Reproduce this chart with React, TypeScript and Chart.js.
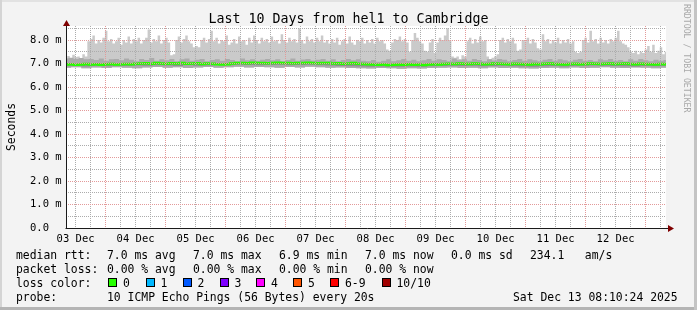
import React, { useEffect, useRef } from 'react';
import { Chart, registerables } from 'chart.js';

Chart.register(...registerables);

// ---- data ----
const START_HOUR = 8.17; // hours after 03 Dec 00:00
const SPAN_HOURS = 240;
const dayLabels = ['03 Dec', '04 Dec', '05 Dec', '06 Dec', '07 Dec', '08 Dec', '09 Dec', '10 Dec', '11 Dec', '12 Dec'];
const yTickValues = [0, 0.5, 1, 1.5, 2, 2.5, 3, 3.5, 4, 4.5, 5, 5.5, 6, 6.5, 7, 7.5, 8, 8.5];
const xGridHours = [12, 18, 24, 30, 36, 42, 48, 54, 60, 66, 72, 78, 84, 90, 96, 102, 108, 114, 120, 126, 132, 138, 144, 150, 156, 162, 168, 174, 180, 186, 192, 198, 204, 210, 216, 222, 228, 234, 240, 246];

// upper smoke (max ping), hourly
const smokeTop = [
  7.25, 7.32, 7.22, 7.38, 7.28, 7.3, 7.24, 7.4, 7.3, 7.95,
  8.05, 8.2, 7.85, 8.0, 7.9, 8.1, 8.4, 7.95, 8.05, 7.85,
  7.95, 8.1, 7.8, 8.0, 7.9, 8.15, 7.85, 8.05, 7.95, 8.1,
  7.85, 8.0, 8.1, 8.45, 7.9, 8.05, 7.95, 8.2, 7.85, 8.0,
  8.1, 7.9, 7.35, 7.4, 8.0, 8.15, 7.9, 8.05, 8.2, 7.95,
  7.85, 7.7, 7.75, 7.7, 8.0, 8.1, 7.9, 8.05, 8.4, 7.95,
  8.1, 7.85, 8.0, 7.95, 8.2, 7.8, 7.9, 8.05, 7.85, 8.15,
  7.95, 8.0, 7.8, 8.1, 7.9, 8.2, 8.0, 7.85, 8.1, 7.95,
  8.05, 7.9, 8.15, 7.95, 8.0, 7.85, 8.25, 8.0, 7.9, 8.1,
  7.95, 8.05, 7.9, 8.5, 8.0, 7.85, 8.15, 7.95, 8.05, 7.9,
  8.1, 7.95, 8.2, 7.9, 8.0, 7.85, 8.05, 7.9, 8.1, 7.8,
  7.95, 8.05, 7.85, 8.15, 7.9, 7.8, 8.0, 7.95, 8.1, 7.85,
  8.0, 7.9, 8.05, 7.85, 8.1, 7.95, 8.0, 7.85, 7.6, 7.55,
  7.9, 8.05, 8.0, 8.15, 7.95, 8.05, 7.9, 7.5, 8.0, 8.3,
  8.1, 7.95, 7.85, 7.55, 7.5, 7.9, 8.05, 7.45, 7.9, 8.1,
  8.0, 8.2, 8.5, 8.0, 7.3, 7.25, 7.3, 7.2, 7.35, 7.3,
  7.95, 8.1, 7.85, 8.05, 7.9, 8.15, 7.95, 8.0, 7.3, 7.2,
  7.25, 7.3, 7.4, 8.0, 8.1, 7.9, 8.05, 7.95, 8.1, 7.85,
  7.55, 7.6, 8.0, 7.95, 8.1, 7.85, 8.05, 7.9, 7.65, 7.6,
  8.25, 7.95, 8.05, 7.85, 8.0, 7.9, 8.1, 7.85, 8.0, 7.9,
  8.05, 7.85, 7.95, 7.5, 7.45, 7.5, 8.0, 8.1, 7.9, 8.4,
  7.95, 8.05, 7.85, 8.1, 7.9, 8.0, 7.85, 8.05, 7.95, 8.1,
  8.4, 7.95, 7.85, 7.8, 7.7, 7.5, 7.45, 7.55, 7.4, 7.5,
  7.45, 7.6, 7.75, 7.5, 7.8, 7.45, 7.55, 7.7, 7.4, 7.5,
];

// inner smoke band top, 2-hourly
const bandTop = [
  7.22, 7.25, 7.2, 7.24, 7.18, 7.2, 7.15, 7.22, 7.12, 7.18,
  7.2, 7.14, 7.22, 7.16, 7.1, 7.2, 7.15, 7.24, 7.12, 7.18,
  7.14, 7.2, 7.1, 7.18, 7.22, 7.12, 7.16, 7.2, 7.1, 7.15,
  7.18, 7.12, 7.2, 7.15, 7.1, 7.22, 7.14, 7.18, 7.12, 7.16,
  7.2, 7.14, 7.18, 7.1, 7.15, 7.22, 7.12, 7.17, 7.2, 7.13,
  7.16, 7.2, 7.12, 7.18, 7.1, 7.15, 7.2, 7.14, 7.18, 7.12,
  7.1, 7.15, 7.08, 7.12, 7.18, 7.1, 7.14, 7.2, 7.12, 7.16,
  7.1, 7.14, 7.2, 7.12, 7.18, 7.15, 7.1, 7.22, 7.14, 7.18,
  7.12, 7.2, 7.15, 7.1, 7.18, 7.13, 7.2, 7.16, 7.1, 7.15,
  7.2, 7.12, 7.18, 7.14, 7.1, 7.16, 7.2, 7.12, 7.18, 7.14,
  7.1, 7.16, 7.2, 7.12, 7.15, 7.1, 7.18, 7.14, 7.2, 7.12,
  7.15, 7.1, 7.18, 7.12, 7.2, 7.14, 7.1, 7.16, 7.12, 7.15,
];

// median rtt, 2-hourly
const medianRtt = [
  6.96, 6.97, 6.95, 6.96, 6.98, 6.96, 6.97, 6.95, 6.97, 6.98, 6.96, 6.97, 6.98, 6.97, 6.99,
  7.0, 7.01, 6.99, 7.02, 7.0, 6.99, 7.01, 7.0, 7.02, 6.99, 7.0, 7.01, 6.98, 7.0, 6.99, 6.97, 6.96, 6.97,
  7.0, 7.02, 7.03, 7.01, 7.04, 7.02, 7.03, 7.01, 7.02, 7.04, 7.02, 7.03, 7.01, 7.03, 7.02, 7.04, 7.02, 7.01, 7.03, 7.02,
  7.0, 7.01, 6.99, 7.0, 7.02, 6.99, 6.98, 6.97,
  6.96, 6.95, 6.96, 6.94, 6.95, 6.96, 6.95, 6.97, 6.95, 6.96, 6.94, 6.96, 6.97, 6.96,
  6.98, 6.99, 6.98, 7.0, 6.99, 6.98, 7.0, 6.99, 6.97, 6.98, 7.0, 6.99, 6.98, 6.97, 6.99, 6.98,
  6.97, 6.96, 6.98, 6.97, 6.99, 7.0, 6.98, 6.97, 6.96, 6.98, 6.99, 6.97, 6.98, 7.0, 6.99, 6.98,
  6.99, 7.0, 6.98, 6.99, 7.0, 6.98, 6.97, 6.99, 6.98, 6.97, 6.96, 6.98, 6.97,
];

// lower edge of dark smoke under the median, 4-hourly
const innerLow = [
  6.89, 6.9, 6.88, 6.9, 6.89, 6.91, 6.9, 6.92, 6.91, 6.93,
  6.92, 6.9, 6.93, 6.91, 6.92, 6.94, 6.93, 6.95, 6.94, 6.93,
  6.94, 6.95, 6.93, 6.94, 6.95, 6.93, 6.92, 6.9, 6.89, 6.88,
  6.87, 6.88, 6.86, 6.87, 6.88, 6.87, 6.89, 6.9, 6.91, 6.9,
  6.91, 6.89, 6.9, 6.91, 6.89, 6.88, 6.87, 6.89, 6.9, 6.88,
  6.9, 6.91, 6.92, 6.91, 6.9, 6.89, 6.88, 6.9, 6.89, 6.9,
];

// lower edge of smoke (min ping), 4-hourly
const bandBottom = [
  6.82, 6.84, 6.8, 6.83, 6.81, 6.84, 6.82, 6.8, 6.83, 6.85,
  6.82, 6.84, 6.81, 6.83, 6.85, 6.82, 6.84, 6.86, 6.83, 6.85,
  6.84, 6.82, 6.85, 6.83, 6.86, 6.84, 6.82, 6.83, 6.81, 6.8,
  6.79, 6.81, 6.8, 6.78, 6.8, 6.79, 6.81, 6.82, 6.83, 6.81,
  6.82, 6.8, 6.83, 6.81, 6.82, 6.8, 6.79, 6.81, 6.82, 6.8,
  6.83, 6.81, 6.82, 6.84, 6.82, 6.81, 6.83, 6.82, 6.8, 6.82,
];

const titleText = 'Last 10 Days from hel1 to Cambridge';
const medianStats = ['7.0 ms avg', '7.0 ms max', '6.9 ms min', '7.0 ms now', '0.0 ms sd'];
const medianExtra = '234.1   am/s';
const lossStats = ['0.00 % avg', '0.00 % max', '0.00 % min', '0.00 % now'];
const lossLabels = ['0', '1', '2', '3', '4', '5', '6-9', '10/10'];
const lossColors = ['#26ff00', '#00b8ff', '#0059ff', '#7e00ff', '#ff00ff', '#ff5500', '#ff0000', '#a00000'];
const probeText = '10 ICMP Echo Pings (56 Bytes) every 20s';
const stampText = 'Sat Dec 13 08:10:24 2025';

// ---- layout / style ----
const MONO = "'DejaVu Sans Mono', monospace";
const MAJOR = '#e39a9a';
const MINOR = '#acacac';
const statX = [107, 193, 279, 365, 451];
const boxX = [108, 145.5, 182.5, 219.5, 256, 293, 330, 381.5];

function toPoints(arr: number[]) {
  const n = arr.length;
  return arr.map((y, i) => ({ x: START_HOUR + (SPAN_HOURS * i) / (n - 1), y }));
}

const framePlugin = {
  id: 'frame',
  beforeDraw(chart: any) {
    const { ctx, chartArea } = chart;
    ctx.save();
    ctx.fillStyle = '#ffffff';
    ctx.fillRect(chartArea.left, chartArea.top, chartArea.right - chartArea.left, chartArea.bottom - chartArea.top);
    ctx.restore();
  },
  afterDraw(chart: any) {
    const { ctx, chartArea } = chart;
    const x0 = Math.round(chartArea.left) + 0.5;
    const y0 = Math.round(chartArea.bottom) + 0.5;
    ctx.save();
    ctx.strokeStyle = '#1a1a1a';
    ctx.lineWidth = 1;
    ctx.beginPath();
    ctx.moveTo(x0, y0);
    ctx.lineTo(x0, chartArea.top - 4);
    ctx.moveTo(x0 - 1, y0);
    ctx.lineTo(chartArea.right + 4, y0);
    ctx.stroke();
    ctx.fillStyle = '#7f0000';
    ctx.beginPath();
    ctx.moveTo(x0, chartArea.top - 6);
    ctx.lineTo(x0 - 3.5, chartArea.top);
    ctx.lineTo(x0 + 3.5, chartArea.top);
    ctx.closePath();
    ctx.fill();
    ctx.beginPath();
    ctx.moveTo(chartArea.right + 8, y0);
    ctx.lineTo(chartArea.right + 2, y0 - 3.5);
    ctx.lineTo(chartArea.right + 2, y0 + 3.5);
    ctx.closePath();
    ctx.fill();
    ctx.restore();
  },
};

export default function App() {
  const ref = useRef<HTMLCanvasElement>(null);

  useEffect(() => {
    document.body.style.margin = '0';
    const hidden = { borderWidth: 0, borderColor: 'transparent', pointRadius: 0, fill: false, stepped: 'middle' as const };
    const chart = new Chart(ref.current as HTMLCanvasElement, {
      type: 'line',
      data: {
        datasets: [
          { label: 'bandBottom', data: toPoints(bandBottom), ...hidden, order: 6 },
          { label: 'innerLow', data: toPoints(innerLow), ...hidden, order: 5 },
          { label: 'smoke', data: toPoints(smokeTop), ...hidden, fill: 0, backgroundColor: '#cacaca', order: 4 },
          { label: 'band', data: toPoints(bandTop), ...hidden, fill: 0, backgroundColor: '#ababab', order: 3 },
          {
            label: 'median', data: toPoints(medianRtt), borderWidth: 2.5, borderColor: '#26ff00', pointRadius: 0,
            fill: 1, backgroundColor: '#8e8e8e', stepped: 'middle', order: 1,
          },
        ] as any,
      },
      options: {
        animation: false,
        responsive: false,
        maintainAspectRatio: false,
        events: [],
        layout: { padding: { left: 30, top: 26, right: 31, bottom: 62 } },
        plugins: { legend: { display: false }, tooltip: { enabled: false }, title: { display: false } },
        scales: {
          x: {
            type: 'linear',
            min: START_HOUR,
            max: START_HOUR + SPAN_HOURS,
            afterBuildTicks: (s: any) => { s.ticks = xGridHours.map((v) => ({ value: v })); },
            afterFit: (s: any) => { s.height = 20; },
            grid: {
              z: 1,
              drawTicks: false,
              lineWidth: 1,
              color: (c: any) => (c.tick && c.tick.value % 24 === 0 ? MAJOR : MINOR),
            },
            border: { display: false, dash: [1, 1] },
            ticks: {
              autoSkip: false,
              maxRotation: 0,
              minRotation: 0,
              padding: 5,
              color: '#000',
              font: { family: MONO, size: 10.5 },
              callback: (v: any) => {
                const k = (Number(v) - 12) / 24;
                return Number.isInteger(k) && dayLabels[k] ? dayLabels[k] : '';
              },
            },
          },
          y: {
            type: 'linear',
            min: 0,
            max: 8.6,
            afterBuildTicks: (s: any) => { s.ticks = yTickValues.map((v) => ({ value: v })); },
            afterFit: (s: any) => { s.width = 36; },
            grid: {
              z: 1,
              drawTicks: false,
              lineWidth: 1,
              color: (c: any) => (c.tick && c.tick.value % 1 === 0 ? MAJOR : MINOR),
            },
            border: { display: false, dash: [1, 1] },
            ticks: {
              autoSkip: false,
              crossAlign: 'far',
              padding: 0,
              color: '#000',
              font: { family: MONO, size: 10.5 },
              callback: (v: any) => {
                const n = Number(v);
                if (n % 1 !== 0) return '';
                return n === 0 ? '0.0' : n.toFixed(1) + ' m';
              },
            },
          },
        },
      },
      plugins: [framePlugin],
    } as any);
    return () => chart.destroy();
  }, []);

  const legendFont: React.CSSProperties = {
    position: 'absolute', fontFamily: MONO, fontSize: '11.4px', lineHeight: '14px', whiteSpace: 'pre', color: '#000',
  };
  const rowTop = [247.5, 261.5, 275.5, 289.5];

  return (
    <div style={{ position: 'relative', width: 697, height: 310, background: '#f3f3f3', overflow: 'hidden' }}>
      <canvas ref={ref} width={697} height={310} style={{ position: 'absolute', left: 0, top: 0, width: 697, height: 310 }} />
      {/* frame shading */}
      <div style={{ position: 'absolute', left: 0, top: 0, width: 697, height: 2, background: '#e2e2e2' }} />
      <div style={{ position: 'absolute', left: 0, top: 0, width: 2, height: 310, background: '#d4d4d4' }} />
      <div style={{ position: 'absolute', left: 0, top: 307, width: 697, height: 3, background: '#b4b4b4' }} />
      <div style={{ position: 'absolute', left: 694, top: 0, width: 3, height: 310, background: '#c4c4c4' }} />

      <div style={{ position: 'absolute', left: 0, top: 11, width: 697, textAlign: 'center', fontFamily: MONO, fontSize: '13.3px', lineHeight: '16px', whiteSpace: 'pre', color: '#000' }}>
        {titleText}
      </div>
      <div style={{ position: 'absolute', left: 10.5, top: 127, transform: 'translate(-50%, -50%) rotate(-90deg)', fontFamily: MONO, fontSize: '11.4px', lineHeight: '14px', whiteSpace: 'pre', color: '#000' }}>
        Seconds
      </div>
      <div style={{ position: 'absolute', left: 682, top: 4, writingMode: 'vertical-rl', fontFamily: MONO, fontSize: '8.2px', lineHeight: '10px', whiteSpace: 'pre', color: '#a8a8a8' }}>
        RRDTOOL / TOBI OETIKER
      </div>

      <span style={{ ...legendFont, left: 16, top: rowTop[0] }}>median rtt:</span>
      {medianStats.map((t, i) => (
        <span key={'m' + i} style={{ ...legendFont, left: statX[i], top: rowTop[0] }}>{t}</span>
      ))}
      <span style={{ ...legendFont, left: 530, top: rowTop[0] }}>{medianExtra}</span>

      <span style={{ ...legendFont, left: 16, top: rowTop[1] }}>packet loss:</span>
      {lossStats.map((t, i) => (
        <span key={'l' + i} style={{ ...legendFont, left: statX[i], top: rowTop[1] }}>{t}</span>
      ))}

      <span style={{ ...legendFont, left: 16, top: rowTop[2] }}>loss color:</span>
      {lossLabels.map((t, i) => (
        <React.Fragment key={'c' + i}>
          <div style={{ position: 'absolute', left: boxX[i], top: 277.5, width: 9, height: 9, boxSizing: 'border-box', border: '1px solid #000', background: lossColors[i] }} />
          <span style={{ ...legendFont, left: boxX[i] + 15, top: rowTop[2] }}>{t}</span>
        </React.Fragment>
      ))}

      <span style={{ ...legendFont, left: 16, top: rowTop[3] }}>probe:</span>
      <span style={{ ...legendFont, left: 107, top: rowTop[3] }}>{probeText}</span>
      <span style={{ ...legendFont, left: 513, top: rowTop[3] }}>{stampText}</span>
    </div>
  );
}
